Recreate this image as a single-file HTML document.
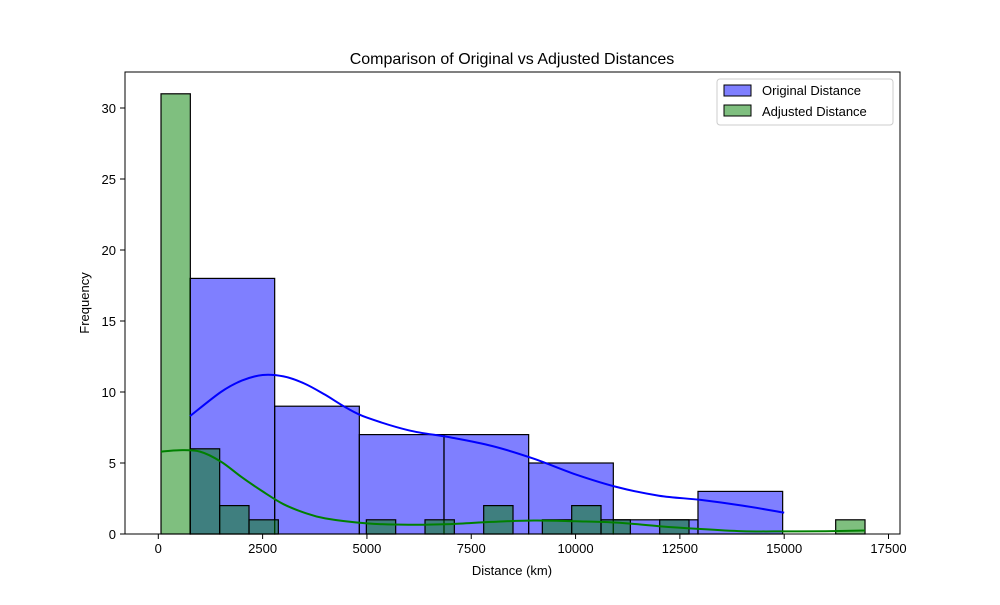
<!DOCTYPE html>
<html><head><meta charset="utf-8"><style>
body{margin:0;background:#fff;}
svg{font-family:"Liberation Sans","DejaVu Sans",sans-serif;}
</style></head><body>
<svg id="chart" width="1000" height="600">
<rect x="0" y="0" width="1000" height="600" fill="#fff"/>
<g id="plot"></g>
</svg>
<script>
const blueStart = 760, blueWidth = 2029;
const blueCounts = [18, 9, 7, 7, 5, 1, 3];
const greenStart = 65, greenWidth = 703;
const greenCounts = [31,6,2,1,0,0,0,1,0,1,0,2,0,1,2,1,0,1,0,0,0,0,0,1];
const blueKdeX = [760,1500,2000,2500,3000,3500,4000,4500,5000,6000,7000,8000,9000,10000,11000,12000,13000,14000,15000];
const blueKdeY = [8.3,10.0,10.8,11.2,11.1,10.6,9.8,8.9,8.2,7.3,6.8,6.2,5.3,4.2,3.3,2.7,2.4,2.0,1.5];
const greenKdeX = [65,500,1000,1500,2000,2500,3000,3500,4000,5000,6000,7000,8000,9000,10000,11000,12000,13000,14000,15000,16000,16940];
const greenKdeY = [5.8,5.9,5.8,5.1,4.0,3.0,2.1,1.5,1.1,0.75,0.65,0.7,0.85,0.95,0.9,0.8,0.55,0.35,0.2,0.18,0.2,0.25];
const xTicks = [0,2500,5000,7500,10000,12500,15000,17500];
const yTicks = [0,5,10,15,20,25,30];

const L=125,R=900,T=72,B=534;
const sx = v => 158.3 + v*0.041726;
const sy = v => 534 - v*14.2;
const NS="http://www.w3.org/2000/svg";
const g=document.getElementById('plot');
function mk(tag, attrs, parent){const e=document.createElementNS(NS,tag);for(const k in attrs)e.setAttribute(k,attrs[k]);(parent||g).appendChild(e);return e;}

blueCounts.forEach((c,i)=>{ if(!c) return;
  const x0=sx(blueStart+i*blueWidth), x1=sx(blueStart+(i+1)*blueWidth);
  const r=mk('rect',{x:x0,y:sy(c),width:x1-x0,height:sy(0)-sy(c),fill:'rgba(0,0,255,0.5)',stroke:'#000','stroke-width':1.2});
  
  
});
greenCounts.forEach((c,i)=>{ if(!c) return;
  const x0=sx(greenStart+i*greenWidth), x1=sx(greenStart+(i+1)*greenWidth);
  const r=mk('rect',{x:x0,y:sy(c),width:x1-x0,height:sy(0)-sy(c),fill:'rgba(0,128,0,0.5)',stroke:'#000','stroke-width':1.2});
  
  
});
function line(xs,ys,color,name){
  const P=xs.map((x,i)=>[sx(x),sy(ys[i])]);
  let d='M'+P[0][0].toFixed(1)+','+P[0][1].toFixed(1);
  for(let i=0;i<P.length-1;i++){
    const p0=P[Math.max(0,i-1)],p1=P[i],p2=P[i+1],p3=P[Math.min(P.length-1,i+2)];
    const c1=[p1[0]+(p2[0]-p0[0])/6,p1[1]+(p2[1]-p0[1])/6];
    const c2=[p2[0]-(p3[0]-p1[0])/6,p2[1]-(p3[1]-p1[1])/6];
    d+=' C'+c1[0].toFixed(1)+','+c1[1].toFixed(1)+' '+c2[0].toFixed(1)+','+c2[1].toFixed(1)+' '+p2[0].toFixed(1)+','+p2[1].toFixed(1);
  }
  const p=mk('path',{d:d,fill:'none',stroke:color,'stroke-width':2,'stroke-linejoin':'round'});
  
  
}
line(blueKdeX,blueKdeY,'#0000ff','original-kde-line');
line(greenKdeX,greenKdeY,'#008000','adjusted-kde-line');

const frame=mk('rect',{x:L,y:T,width:R-L,height:B-T,fill:'none',stroke:'#000','stroke-width':1});



xTicks.forEach(v=>{
  mk('line',{x1:sx(v),x2:sx(v),y1:B,y2:B+5,stroke:'#000'});
  const t=mk('text',{x:sx(v),y:B+19,'text-anchor':'middle','font-size':13,fill:'#000'});
  t.textContent=v;
  
  
});
yTicks.forEach(v=>{
  mk('line',{x1:L-5,x2:L,y1:sy(v),y2:sy(v),stroke:'#000'});
  const t=mk('text',{x:L-9,y:sy(v)+5,'text-anchor':'end','font-size':13,fill:'#000'});
  t.textContent=v;
  
  
});
</script>
<svg width="1000" height="600" style="position:absolute;left:0;top:0">
<text x="512" y="64" text-anchor="middle" font-size="16">Comparison of Original vs Adjusted Distances</text>
<text x="512" y="575" text-anchor="middle" font-size="13">Distance (km)</text>
<text x="89" y="303" text-anchor="middle" font-size="13" transform="rotate(-90 89 303)">Frequency</text>
<g>
<rect x="717" y="79" width="176" height="46" fill="#fff" stroke="#ccc" rx="3"/>
<g>
<rect x="724" y="85" width="27" height="11" fill="rgba(0,0,255,0.5)" stroke="#000"/>
<text x="762" y="95" font-size="13">Original Distance</text></g>
<g>
<rect x="724" y="105" width="27" height="11" fill="rgba(0,128,0,0.5)" stroke="#000"/>
<text x="762" y="116" font-size="13">Adjusted Distance</text></g>
</g>
</svg>
</body></html>
